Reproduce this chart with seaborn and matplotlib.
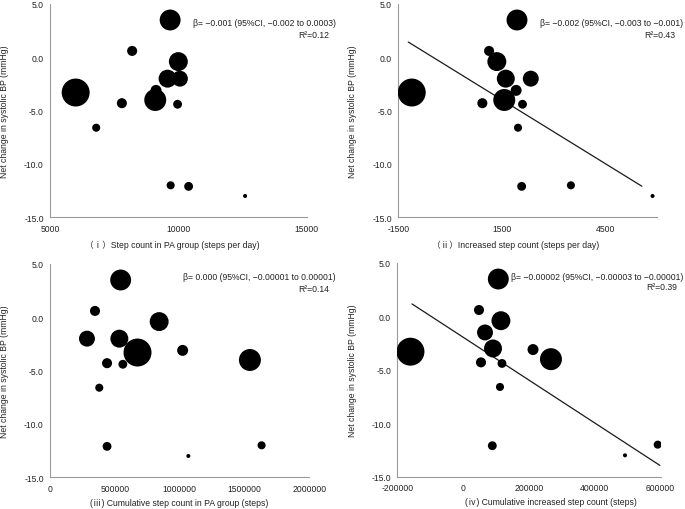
import numpy as np
import pandas as pd
import matplotlib
matplotlib.use("Agg")
import matplotlib.pyplot as plt
from matplotlib import ticker
import seaborn as sns

# ---------------- data ----------------
study_ids = list("ABCDEFGHIJKLMN")
net_change_sbp = [-3.3, 3.5, -4.0, -2.0, -0.4, -2.0, -3.1, 0.6, -4.3, -6.6, -4.4, -12.0, -12.1, -13.0]
net_change_sbp_iv = [-3.3, 3.5, -4.0, -3.0, -0.4, -1.5, -3.1, 0.6, -4.3, -6.6, -4.4, -12.0, -12.1, -13.0]
study_weight = [24.0, 13.4, 14.8, 9.9, 11.0, 7.8, 3.7, 3.1, 3.1, 2.0, 2.4, 2.0, 2.4, 0.5]

steps_pa = [6000, 9680, 9100, 9580, 10000, 10060, 9130, 8200, 7800, 6800, 9970, 9700, 10400, 12600]
increased_steps = [-1110, 1945, 1575, 1620, 1360, 2345, 1920, 1135, 940, 1975, 2105, 3510, 2080, 5880]
cumulative_steps = [675000, 545000, 1542000, 535000, 842000, 285000, 1023000, 347000, 440000,
                    380000, 562000, 1632000, 440000, 1067000]
cumulative_increased = [-160000, 107000, 267000, 90900, 115000, 66600, 212500, 48300, 54400,
                        112100, 118200, 591500, 88800, 492100]

# regression fits (slope, intercept, x-extent)
fit_ii = {"slope": -0.001994, "intercept": -0.98, "x": [-1210, 5570]}
fit_iv = {"slope": -2.006e-5, "intercept": -1.945, "x": [-155300, 598000]}

x_labels = ["（ⅰ）Step count in PA group (steps per day)",
            "（ⅱ）Increased step count (steps per day)",
            "(ⅲ) Cumulative step count in PA group (steps)",
            "(ⅳ) Cumulative increased step count (steps)"]
y_label = "Net change in systolic BP (mmHg)"
beta_texts = ["β= −0.001 (95%CI, −0.002 to 0.0003)",
              "β= −0.002 (95%CI, −0.003 to −0.001)",
              "β= 0.000 (95%CI, −0.00001 to 0.00001)",
              "β= −0.00002 (95%CI, −0.00003 to −0.00001)"]
r2_texts = ["R²=0.12", "R²=0.43", "R²=0.14", "R²=0.39"]
x_ticks = [[5000, 10000, 15000],
           [-1500, 1500, 4500],
           [0, 500000, 1000000, 1500000, 2000000],
           [-200000, 0, 200000, 400000, 600000]]
x_lims = [(5000, 15000), (-1500, 6000), (0, 2000000), (-200000, 600000)]
y_ticks = [-15, -10, -5, 0, 5]

# ---------------- style ----------------
sns.set_style("white")
plt.rcParams["font.family"] = ["Liberation Sans", "Noto Sans CJK JP", "DejaVu Sans"]
plt.rcParams["axes.unicode_minus"] = False

W, H = 685, 510
fig = plt.figure(figsize=(W / 100, H / 100), dpi=100)

def frac_rect(l, r, t, b):
    return [l / W, 1 - b / H, (r - l) / W, (b - t) / H]

rects = [frac_rect(50, 306.7, 5, 218.3),
         frac_rect(398.3, 656.7, 5, 218.3),
         frac_rect(50, 309.3, 265, 478.3),
         frac_rect(397.3, 660.5, 264, 477.7)]
xlabel_pos = [(0.475, -0.104), (0.455, -0.104), (0.497, -0.095), (0.584, -0.095)]
ylabel_x = [-0.158, -0.158, -0.157, -0.155]
beta_pos = [(336, 24), (683, 24), (336, 278), (683, 278)]
r2_pos = [(329, 36), (675, 35), (329, 289), (677, 288)]

xs = [steps_pa, increased_steps, cumulative_steps, cumulative_increased]
ys = [net_change_sbp, net_change_sbp, net_change_sbp, net_change_sbp_iv]
fits = [None, fit_ii, None, fit_iv]

txt_color = "#222222"
spine_color = "#9a9a9a"
fs = 6.2
k = 16.9  # area scale
wmin, wmax = min(study_weight), max(study_weight)

for i in range(4):
    ax = fig.add_axes(rects[i])
    df = pd.DataFrame({"x": xs[i], "y": ys[i], "w": study_weight})
    sns.scatterplot(data=df, x="x", y="y", size="w", sizes=(wmin * k, wmax * k),
                    size_norm=(wmin, wmax), color="black", edgecolor="black",
                    linewidth=0, legend=False, ax=ax, zorder=3)
    f = fits[i]
    if f is not None:
        fx = np.array(f["x"], dtype=float)
        fy = f["intercept"] + f["slope"] * fx
        sns.lineplot(x=fx, y=fy, color="#1a1a1a", linewidth=0.9, ax=ax, zorder=2)
    ax.set_xlim(*x_lims[i])
    ax.set_ylim(-15, 5)
    ax.set_xticks(x_ticks[i])
    ax.set_yticks(y_ticks)
    ax.xaxis.set_major_formatter(ticker.FormatStrFormatter("%d"))
    ax.yaxis.set_major_formatter(ticker.FormatStrFormatter("%.1f"))
    for s in ["top", "right"]:
        ax.spines[s].set_visible(False)
    for s in ["left", "bottom"]:
        ax.spines[s].set_color(spine_color)
        ax.spines[s].set_linewidth(0.8)
    ax.tick_params(axis="y", direction="out", length=2.5, width=0.6, color=spine_color,
                   labelsize=fs, labelcolor=txt_color, pad=2)
    ax.tick_params(axis="x", direction="in", length=2, width=0.6, color=spine_color,
                   labelsize=fs, labelcolor=txt_color, pad=4.5)
    ax.set_xlabel(x_labels[i], fontsize=fs, color=txt_color)
    ax.xaxis.set_label_coords(*xlabel_pos[i])
    ax.set_ylabel(y_label, fontsize=fs, color=txt_color)
    ax.yaxis.set_label_coords(ylabel_x[i], 0.5)
    fig.text(beta_pos[i][0] / W, 1 - beta_pos[i][1] / H, beta_texts[i], ha="right",
             va="center", fontsize=fs, color=txt_color)
    fig.text(r2_pos[i][0] / W, 1 - r2_pos[i][1] / H, r2_texts[i], ha="right",
             va="center", fontsize=fs, color=txt_color)

fig.savefig("out.png", dpi=100)
